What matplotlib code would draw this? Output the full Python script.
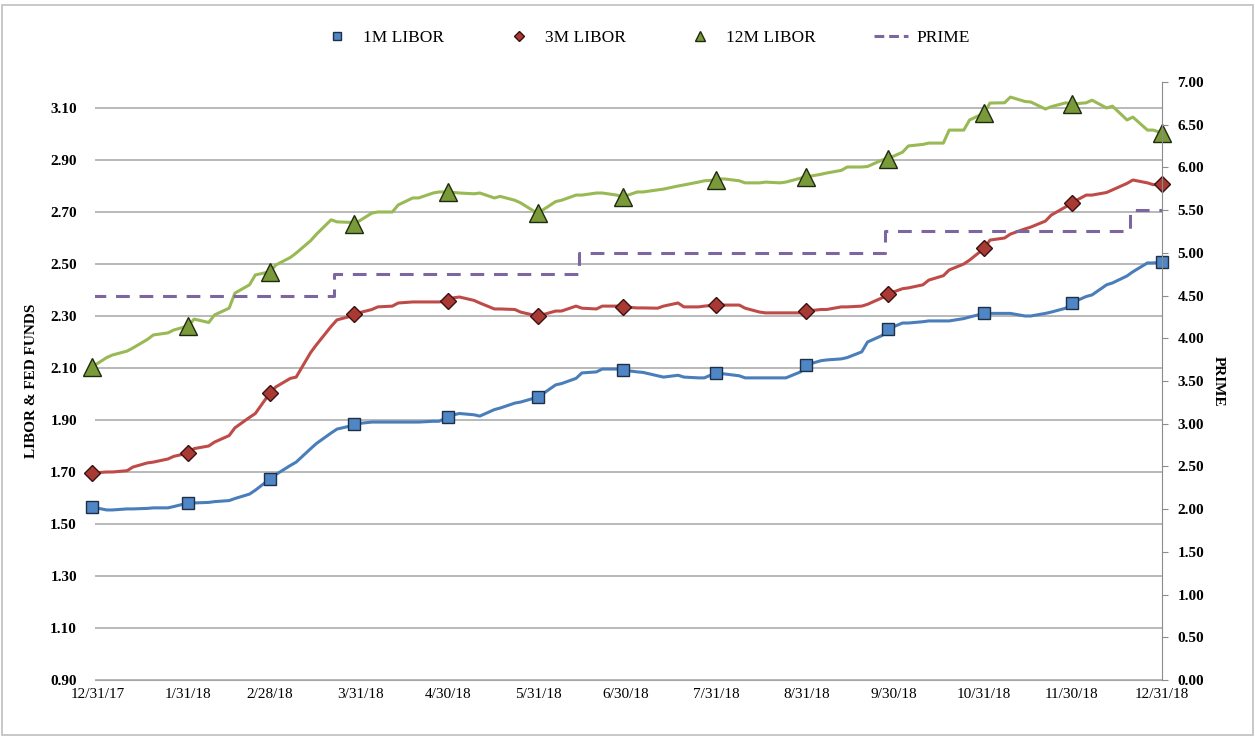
import matplotlib
matplotlib.use("Agg")
import matplotlib.pyplot as plt
from matplotlib.lines import Line2D
from matplotlib.patches import Rectangle
import pandas as pd

# twice-weekly fixings plus month-end fixings, 2018
DATES = [
    "2017-12-29", "2018-01-03", "2018-01-05", "2018-01-10", "2018-01-12", "2018-01-17",
    "2018-01-19", "2018-01-24", "2018-01-26", "2018-01-31",
    "2018-02-02", "2018-02-07", "2018-02-09", "2018-02-14", "2018-02-16", "2018-02-21",
    "2018-02-23", "2018-02-28",
    "2018-03-02", "2018-03-07", "2018-03-09", "2018-03-14", "2018-03-16", "2018-03-21",
    "2018-03-23", "2018-03-28", "2018-03-29",
    "2018-04-04", "2018-04-06", "2018-04-11", "2018-04-13", "2018-04-18", "2018-04-20",
    "2018-04-25", "2018-04-27", "2018-04-30",
    "2018-05-02", "2018-05-04", "2018-05-09", "2018-05-11", "2018-05-16", "2018-05-18",
    "2018-05-23", "2018-05-25", "2018-05-30", "2018-05-31",
    "2018-06-06", "2018-06-08", "2018-06-13", "2018-06-15", "2018-06-20", "2018-06-22",
    "2018-06-27", "2018-06-29",
    "2018-07-04", "2018-07-06", "2018-07-11", "2018-07-13", "2018-07-18", "2018-07-20",
    "2018-07-25", "2018-07-27", "2018-07-31",
    "2018-08-01", "2018-08-03", "2018-08-08", "2018-08-10", "2018-08-15", "2018-08-17",
    "2018-08-22", "2018-08-24", "2018-08-29", "2018-08-31",
    "2018-09-05", "2018-09-07", "2018-09-12", "2018-09-14", "2018-09-19", "2018-09-21",
    "2018-09-26", "2018-09-28",
    "2018-10-03", "2018-10-05", "2018-10-10", "2018-10-12", "2018-10-17", "2018-10-19",
    "2018-10-24", "2018-10-26", "2018-10-31",
    "2018-11-02", "2018-11-07", "2018-11-09", "2018-11-14", "2018-11-16", "2018-11-21",
    "2018-11-23", "2018-11-28", "2018-11-30",
    "2018-12-05", "2018-12-07", "2018-12-12", "2018-12-14", "2018-12-19", "2018-12-21",
    "2018-12-26", "2018-12-28", "2018-12-31",
]
LIBOR_1M = [
    1.565, 1.554, 1.554, 1.558, 1.558, 1.560, 1.562, 1.562, 1.567, 1.581,
    1.581, 1.583, 1.586, 1.590, 1.598, 1.615, 1.630, 1.673,
    1.690, 1.725, 1.738, 1.790, 1.810, 1.850, 1.865, 1.878, 1.885,
    1.892, 1.892, 1.892, 1.892, 1.892, 1.892, 1.895, 1.895, 1.912,
    1.920, 1.925, 1.920, 1.915, 1.940, 1.946, 1.965, 1.969, 1.985, 1.988,
    2.035, 2.040, 2.060, 2.081, 2.085, 2.096, 2.096, 2.092,
    2.085, 2.083, 2.070, 2.065, 2.072, 2.065, 2.062, 2.062, 2.081,
    2.080, 2.077, 2.070, 2.062, 2.062, 2.062, 2.062, 2.062, 2.085, 2.112,
    2.128, 2.131, 2.135, 2.140, 2.162, 2.200, 2.225, 2.250,
    2.273, 2.273, 2.278, 2.281, 2.281, 2.281, 2.290, 2.296, 2.310,
    2.310, 2.310, 2.310, 2.300, 2.300, 2.310, 2.315, 2.330, 2.350,
    2.375, 2.381, 2.420, 2.427, 2.454, 2.470, 2.504, 2.504, 2.508,
]
LIBOR_3M = [
    1.696, 1.700, 1.700, 1.705, 1.719, 1.735, 1.738, 1.750, 1.760, 1.773,
    1.790, 1.800, 1.815, 1.840, 1.870, 1.910, 1.925, 2.004,
    2.027, 2.060, 2.065, 2.160, 2.190, 2.260, 2.285, 2.300, 2.308,
    2.325, 2.335, 2.338, 2.350, 2.354, 2.354, 2.354, 2.354, 2.358,
    2.370, 2.373, 2.360, 2.350, 2.327, 2.327, 2.325, 2.315, 2.302, 2.300,
    2.319, 2.319, 2.338, 2.330, 2.327, 2.338, 2.338, 2.335,
    2.331, 2.331, 2.330, 2.338, 2.350, 2.335, 2.335, 2.338, 2.342,
    2.342, 2.342, 2.342, 2.330, 2.315, 2.312, 2.312, 2.312, 2.312, 2.319,
    2.325, 2.325, 2.335, 2.335, 2.338, 2.345, 2.370, 2.385,
    2.405, 2.408, 2.420, 2.438, 2.455, 2.477, 2.500, 2.515, 2.560,
    2.592, 2.600, 2.615, 2.635, 2.642, 2.665, 2.688, 2.720, 2.735,
    2.765, 2.765, 2.775, 2.785, 2.810, 2.823, 2.812, 2.805, 2.808,
]
LIBOR_12M = [
    2.104, 2.140, 2.150, 2.165, 2.177, 2.210, 2.227, 2.235, 2.246, 2.262,
    2.288, 2.275, 2.304, 2.330, 2.388, 2.420, 2.458, 2.470,
    2.496, 2.525, 2.542, 2.590, 2.615, 2.670, 2.662, 2.660, 2.654,
    2.696, 2.700, 2.700, 2.727, 2.754, 2.754, 2.773, 2.777, 2.777,
    2.775, 2.773, 2.770, 2.773, 2.754, 2.760, 2.745, 2.735, 2.700, 2.696,
    2.740, 2.745, 2.765, 2.765, 2.773, 2.773, 2.765, 2.758,
    2.777, 2.777, 2.785, 2.788, 2.800, 2.804, 2.815, 2.820, 2.823,
    2.827, 2.827, 2.820, 2.812, 2.812, 2.815, 2.812, 2.815, 2.830, 2.835,
    2.845, 2.850, 2.860, 2.873, 2.873, 2.875, 2.900, 2.905,
    2.930, 2.954, 2.960, 2.965, 2.965, 3.015, 3.015, 3.054, 3.080,
    3.119, 3.120, 3.142, 3.125, 3.123, 3.096, 3.105, 3.120, 3.115,
    3.120, 3.130, 3.100, 3.107, 3.054, 3.065, 3.015, 3.015, 3.004,
]
MONTH_END = [
    "2017-12-29", "2018-01-31", "2018-02-28", "2018-03-29", "2018-04-30",
    "2018-05-31", "2018-06-29", "2018-07-31", "2018-08-31", "2018-09-28",
    "2018-10-31", "2018-11-30", "2018-12-31",
]
PRIME_DATES = ["2017-12-29", "2018-03-22", "2018-06-14", "2018-09-27", "2018-12-20", "2018-12-31"]
PRIME_RATE = [4.50, 4.75, 5.00, 5.25, 5.50, 5.50]

TICK_DATES = pd.date_range("2017-12-31", "2018-12-31", freq="ME")

dates = pd.to_datetime(DATES)
marks = [i for i, d in enumerate(DATES) if d in MONTH_END]

plt.rcParams["font.family"] = ["Liberation Serif", "DejaVu Serif"]

fig = plt.figure(figsize=(12.55, 7.36), dpi=100)
ax = fig.add_axes([0.0757, 0.0761, 0.8502, 0.8125])
ax2 = ax.twinx()

ax.plot(dates, LIBOR_1M, color="#4A7EBB", lw=2.2, marker="s", ms=9,
        mfc="#4F86C6", mec="#1F2F45", mew=1.0, markevery=marks, zorder=3, clip_on=False)
ax.plot(dates, LIBOR_3M, color="#BE4B48", lw=2.2, marker="D", ms=8,
        mfc="#A83A33", mec="#3A1010", mew=1.0, markevery=marks, zorder=3, clip_on=False)
ax.plot(dates, LIBOR_12M, color="#98B954", lw=2.2, marker="^", ms=13,
        mfc="#7A9A3A", mec="#1E2A10", mew=1.0, markevery=marks, zorder=3, clip_on=False)
ax2.plot(pd.to_datetime(PRIME_DATES), PRIME_RATE, color="#7B66A0", lw=2.2,
         drawstyle="steps-post", linestyle=(0, (4.5, 3.2)))

ax.set_xlim(pd.Timestamp("2017-12-30"), pd.Timestamp("2018-12-31"))
ax.set_ylim(0.90, 3.20)
ax.set_yticks([0.90 + 0.2 * i for i in range(12)])
ax.yaxis.set_major_formatter(plt.FormatStrFormatter("%.2f"))
ax2.set_ylim(0, 7)
ax2.set_yticks([0.5 * i for i in range(15)])
ax2.yaxis.set_major_formatter(plt.FormatStrFormatter("%.2f"))

ax.set_xticks(TICK_DATES)
ax.set_xticklabels([f"{d.month}/{d.day}/{d.strftime('%y')}" for d in TICK_DATES])

ax.grid(axis="y", color="#A6A6A6", lw=1.1)
ax.set_axisbelow(True)
for a in (ax, ax2):
    for s in ("top", "left", "right"):
        a.spines[s].set_visible(False)
ax.spines["bottom"].set_color("#A6A6A6")
ax2.spines["bottom"].set_visible(False)
ax2.spines["right"].set_visible(True)
ax2.spines["right"].set_color("#8C8C8C")

ax.tick_params(axis="y", length=0, pad=13, labelsize=11)
ax.tick_params(axis="x", length=0, pad=6, labelsize=11)
ax2.tick_params(axis="y", length=4, color="#8C8C8C", pad=7, labelsize=11)
for lab in ax.get_yticklabels() + ax2.get_yticklabels():
    lab.set_fontweight("bold")

ax.set_ylabel("LIBOR & FED FUNDS", fontsize=11, fontweight="bold", labelpad=9)
ax2.set_ylabel("PRIME", fontsize=11, fontweight="bold", rotation=270, labelpad=15)

handles = [
    Line2D([], [], ls="none", marker="s", ms=6, mfc="#4F86C6", mec="#1F2F45"),
    Line2D([], [], ls="none", marker="D", ms=5, mfc="#A83A33", mec="#3A1010"),
    Line2D([], [], ls="none", marker="^", ms=7, mfc="#7A9A3A", mec="#1E2A10"),
    Line2D([], [], color="#7B66A0", lw=2.2, linestyle=(0, (3.2, 1.6))),
]
fig.legend(handles, ["1M LIBOR", "3M LIBOR", "12M LIBOR", "PRIME"], loc="center",
           bbox_to_anchor=(0.514, 0.949), ncol=4, frameon=False, fontsize=12.5,
           columnspacing=3.3, handletextpad=0.5)

fig.patches.append(Rectangle((0.0016, 0.002), 0.9968, 0.991, transform=fig.transFigure,
                             fill=False, edgecolor="#BFBFBF", lw=1.2))

fig.savefig("out.png", dpi=100)
